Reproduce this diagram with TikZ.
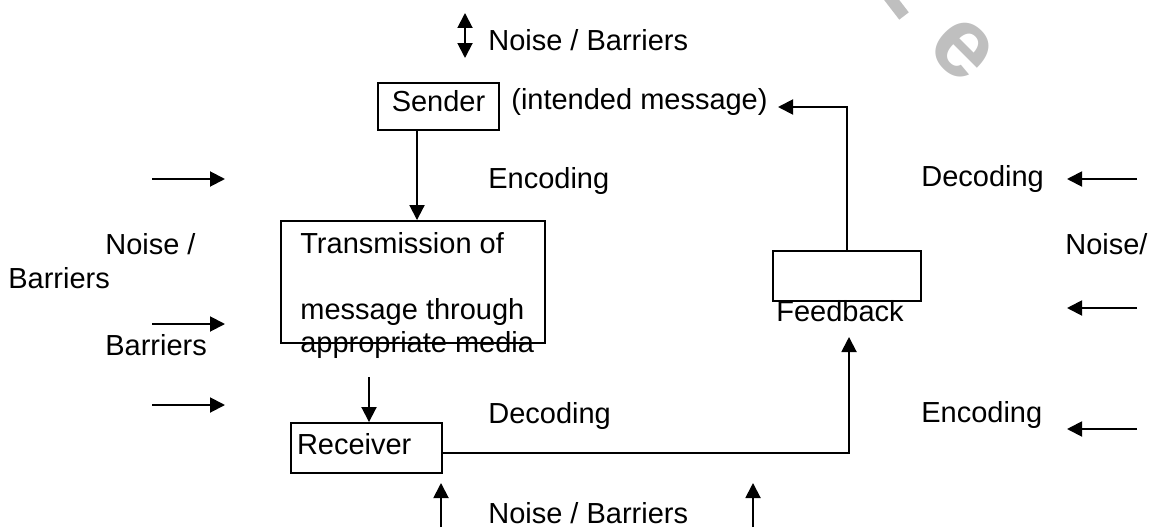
\documentclass[tikz,border=0pt]{standalone}
\usepackage{fontspec}
\setmainfont{Liberation Sans}
\usetikzlibrary{arrows.meta}

\begin{document}
\begin{tikzpicture}[
    x=0.02cm, y=-0.02cm,
    every node/.style={font=\fontsize{16.5}{19.8}\selectfont},
    bbox/.style={draw, line width=1.1pt, inner sep=0pt},
    txt/.style={anchor=base west, inner sep=0pt},
    myarr/.style={-{Triangle[length=0.3cm,width=0.3cm]}, line width=1.1pt},
    dblarr/.style={{Triangle[length=0.3cm,width=0.3cm]}-{Triangle[length=0.3cm,width=0.3cm]}, line width=1.1pt},
]
\useasboundingbox (0,0) rectangle (1151,527);
%% -- Boxes --
\node[bbox, minimum width=2.42cm, minimum height=0.94cm,
      text height=0.73em, text depth=0.15em] (sender) at (438.5,106.5) {Sender};
\node[bbox, minimum width=5.28cm, minimum height=2.44cm] (trans) at (413,282) {};
\node[bbox, inner xsep=0.12cm, text width=2.78cm, minimum height=1.0cm,
      text height=0.73em, text depth=0em, align=left] (receiver) at (366.5,448) {Receiver};
\node[bbox, minimum width=2.96cm, minimum height=1.0cm] (feedback) at (847,276) {};
%% -- Texts --
\node[txt] (trl1) at (300,253) {Transmission of};
\node[txt] (trl2) at (300,319) {message through};
\node[txt] (trl3) at (300,352) {appropriate media};
\node[txt] (fbtxt) at (776,321) {Feedback};
\node[txt] (intmsg) at (511,110) {(intended message)};
\node[txt] (nbtop) at (488,51) {Noise / Barriers};
\node[txt] (encl) at (488,188) {Encoding};
\node[txt] (decl) at (488,423) {Decoding};
\node[txt] (nbbot) at (488,523) {Noise / Barriers};
\node[txt] (decr) at (921,186) {Decoding};
\node[txt] (noiser) at (1065,254) {Noise/};
\node[txt] (encr) at (921,422) {Encoding};
\node[txt] (noisel) at (105,254) {Noise /};
\node[txt] (barl1) at (8,288) {Barriers};
\node[txt] (barl2) at (105,355) {Barriers};
%% -- Free ends --
\coordinate (nt1) at (465,13);
\coordinate (nt2) at (465,58);
\coordinate (sbot) at ([xshift=-0.43cm]sender.south);
\coordinate (tmout) at (369,377);
\coordinate (fbin) at (849,337);
\coordinate (imsg) at (778,107);
%% -- Main flow --
\draw[dblarr] (nt1) -- (nt2);
\draw[myarr] (sbot) -- (sbot |- trans.north);
\draw[myarr] (tmout) -- (tmout |- receiver.north);
\draw[myarr] ([yshift=-0.1cm]receiver.east) -| (fbin);
\draw[myarr] (feedback.north) |- (imsg);
%% -- Noise arrows --
\foreach \y [count=\i] in {179,324,405}{
  \coordinate (la\i) at (152,\y);
  \coordinate (lb\i) at (225,\y);
  \draw[myarr] (la\i) -- (lb\i);
}
\foreach \y [count=\i] in {179,308,429}{
  \coordinate (ra\i) at (1137,\y);
  \coordinate (rb\i) at (1067,\y);
  \draw[myarr] (ra\i) -- (rb\i);
}
\foreach \x [count=\i] in {441,753}{
  \coordinate (ba\i) at (\x,527);
  \coordinate (bb\i) at (\x,483);
  \draw[myarr] (ba\i) -- (bb\i);
}
%% -- Watermark remains --
\node[text=black!25, font=\fontsize{56}{56}\selectfont\bfseries,
      rotate=-45, inner sep=0pt] (wme) at (962,49) {e};
\begin{scope}
  \clip (0,0) rectangle (1151,527);
  \draw[black!25, line width=0.24cm] (884,-10) -- (904,16);
\end{scope}
\end{tikzpicture}
\end{document}
